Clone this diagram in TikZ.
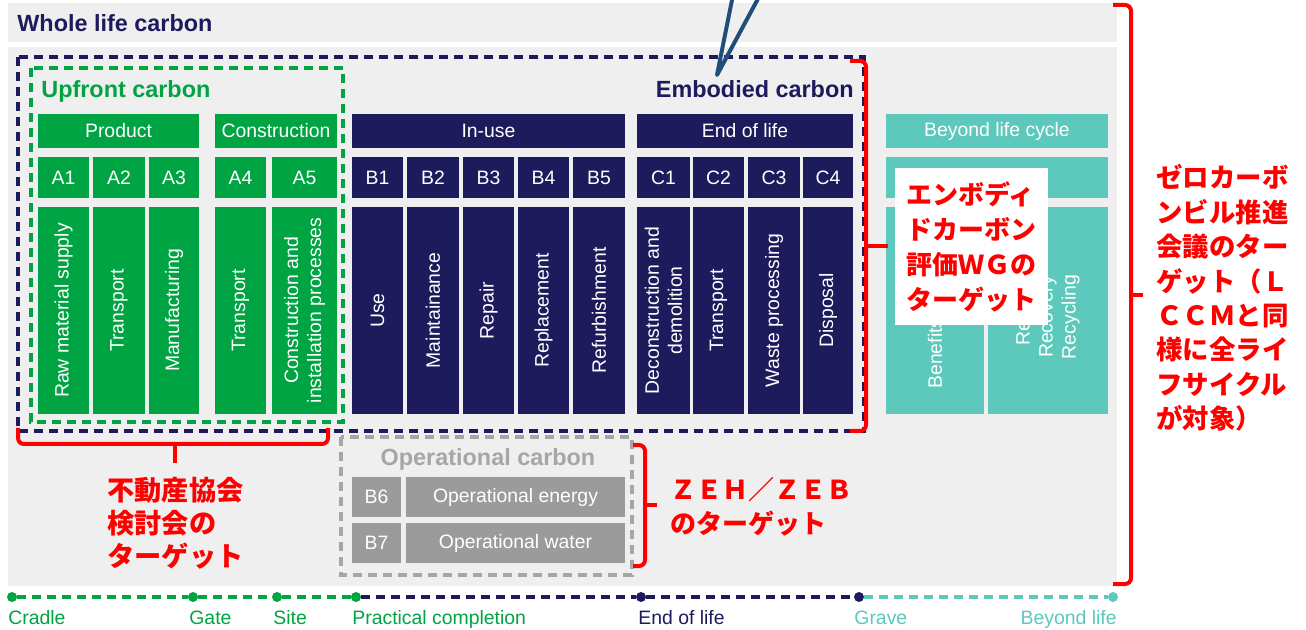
\documentclass[tikz,border=0pt]{standalone}
\usepackage{fontspec}
\usepackage{xcolor}
\usepackage{tikz}
\setmainfont{Liberation Sans}
\newfontfamily\jpfont{Noto Sans CJK JP}

\definecolor{navy}{RGB}{30,27,92}
\definecolor{upgreen}{RGB}{0,164,67}
\definecolor{beyond}{RGB}{93,201,189}
\definecolor{bandgray}{RGB}{239,239,239}
\definecolor{opgray}{RGB}{155,155,155}
\definecolor{opline}{RGB}{166,166,166}
\definecolor{callout}{RGB}{31,78,121}
\definecolor{markred}{RGB}{255,0,0}

\begin{document}
\begin{tikzpicture}[x=0.5pt, y=-0.5pt]
        \def\u{0.5pt}
        \tikzstyle{cell}=[rectangle, inner sep=0pt, text=white, align=center, font=\fontsize{9.7}{11.5}\selectfont]
        \tikzstyle{head}=[cell, minimum height=34*\u]
        \tikzstyle{code}=[cell, minimum height=41*\u]
        \tikzstyle{tall}=[cell, rotate=90, minimum width=207*\u]
        \tikzstyle{title}=[inner sep=0pt, font=\fontsize{11.7}{14}\selectfont\bfseries]
        \tikzstyle{frame}=[dash pattern=on 4.5pt off 3pt, line width=1.6pt]
        \tikzstyle{bracket}=[markred, line width=2pt, rounded corners=3pt]
        \tikzstyle{note}=[inner sep=0pt, text=markred, align=left, font=\jpfont\bfseries\fontsize{13.2}{17.2}\selectfont]
        \tikzstyle{dot}=[circle, inner sep=0pt, minimum size=5pt]
        \tikzstyle{stage}=[inner sep=0pt, font=\fontsize{9.7}{11.5}\selectfont]

        \useasboundingbox (0,0) rectangle (1306,630);
        \fill[white] (0,0) rectangle (1306,630);

        % Bands and frames
        \fill[bandgray] (8,3) rectangle (1117,42);
        \fill[bandgray] (8,47) rectangle (1117,586);
        \draw[frame, navy] (18,57) rectangle (864,431);
        \draw[frame, upgreen] (31,68) rectangle (343,422);
        \draw[frame, opline] (341,437) rectangle (632,575);

        \node[title, navy, anchor=base west] (whole) at (17,32) {Whole life carbon};
        \node[title, upgreen, anchor=base west] (upfront) at (41,98) {Upfront carbon};
        \node[title, navy, anchor=base east] (embodied) at (854,98) {Embodied carbon};
        \node[title, opline, anchor=base] (operational) at (488,466) {Operational carbon};

        % Stages
        \node[head, fill=upgreen, minimum width=161*\u] (product) at (118.5,131) {Product};
        \node[head, fill=upgreen, minimum width=122*\u] (construction) at (276,131) {Construction};
        \node[head, fill=navy, minimum width=273*\u] (inuse) at (488.5,131) {In-use};
        \node[head, fill=navy, minimum width=216*\u] (endoflife) at (745,131) {End of life};
        \node[head, fill=beyond, minimum width=222*\u] (beyondcycle) at (997,131) {Beyond life cycle};

        % Modules
        \node[code, fill=upgreen, minimum width=51*\u] (a1) at (63.5,177.5) {A1};
        \node[code, fill=upgreen, minimum width=52*\u] (a2) at (119,177.5) {A2};
        \node[code, fill=upgreen, minimum width=50*\u] (a3) at (174,177.5) {A3};
        \node[code, fill=upgreen, minimum width=51*\u] (a4) at (240.5,177.5) {A4};
        \node[code, fill=upgreen, minimum width=65*\u] (a5) at (304.5,177.5) {A5};
        \node[code, fill=navy, minimum width=51*\u] (b1) at (377.5,177.5) {B1};
        \node[code, fill=navy, minimum width=52*\u] (b2) at (433,177.5) {B2};
        \node[code, fill=navy, minimum width=51*\u] (b3) at (488.5,177.5) {B3};
        \node[code, fill=navy, minimum width=51*\u] (b4) at (543.5,177.5) {B4};
        \node[code, fill=navy, minimum width=52*\u] (b5) at (599,177.5) {B5};
        \node[code, fill=navy, minimum width=53*\u] (c1) at (663.5,177.5) {C1};
        \node[code, fill=navy, minimum width=51*\u] (c2) at (718.5,177.5) {C2};
        \node[code, fill=navy, minimum width=52*\u] (c3) at (774,177.5) {C3};
        \node[code, fill=navy, minimum width=50*\u] (c4) at (828,177.5) {C4};
        \node[code, fill=beyond, minimum width=222*\u] (d) at (997,177.5) {};

        % Processes
        \node[tall, fill=upgreen, minimum height=51*\u] (a1p) at (63.5,310.5) {Raw material supply};
        \node[tall, fill=upgreen, minimum height=52*\u] (a2p) at (119,310.5) {Transport};
        \node[tall, fill=upgreen, minimum height=50*\u] (a3p) at (174,310.5) {Manufacturing};
        \node[tall, fill=upgreen, minimum height=51*\u] (a4p) at (240.5,310.5) {Transport};
        \node[tall, fill=upgreen, minimum height=65*\u] (a5p) at (304.5,310.5) {Construction and\\installation processes};
        \node[tall, fill=navy, minimum height=51*\u] (b1p) at (377.5,310.5) {Use};
        \node[tall, fill=navy, minimum height=52*\u] (b2p) at (433,310.5) {Maintainance};
        \node[tall, fill=navy, minimum height=51*\u] (b3p) at (488.5,310.5) {Repair};
        \node[tall, fill=navy, minimum height=51*\u] (b4p) at (543.5,310.5) {Replacement};
        \node[tall, fill=navy, minimum height=52*\u] (b5p) at (599,310.5) {Refurbishment};
        \node[tall, fill=navy, minimum height=53*\u] (c1p) at (663.5,310.5) {Deconstruction and\\demolition};
        \node[tall, fill=navy, minimum height=51*\u] (c2p) at (718.5,310.5) {Transport};
        \node[tall, fill=navy, minimum height=52*\u] (c3p) at (774,310.5) {Waste processing};
        \node[tall, fill=navy, minimum height=50*\u] (c4p) at (828,310.5) {Disposal};
        \node[tall, fill=beyond, minimum height=98*\u] (d1p) at (935,310.5) {};
        \node[tall, fill=beyond, minimum height=120*\u] (d2p) at (1048,310.5) {};
        \node[stage, text=white, rotate=90, anchor=west] (benefits) at (935,389) {Benefits};
        \node[stage, text=white, rotate=90, align=center] (reuse) at (1048,317) {Reuse\\Recovery\\Recycling};

        % Operational
        \node[code, fill=opgray, minimum width=49*\u, minimum height=40*\u] (b6) at (376.5,497) {B6};
        \node[code, fill=opgray, minimum width=219*\u, minimum height=40*\u] (energy) at (515.5,497) {Operational energy};
        \node[code, fill=opgray, minimum width=49*\u, minimum height=40*\u] (b7) at (376.5,543) {B7};
        \node[code, fill=opgray, minimum width=219*\u, minimum height=40*\u] (water) at (515.5,543) {Operational water};

        % Notes
        \node[note, fill=white, minimum width=153*\u, minimum height=157*\u, font=\jpfont\bfseries\fontsize{13}{17.5}\selectfont] (wgnote) at (971.5,246.5) {エンボディ\\ドカーボン\\評価ＷＧの\\ターゲット};
        \node[note, anchor=west, font=\jpfont\bfseries\fontsize{13.6}{16.5}\selectfont] (fudosan) at (107,523) {不動産協会\\検討会の\\ターゲット};
        \node[note, anchor=west, font=\jpfont\bfseries\fontsize{13}{17}\selectfont] (zeh) at (670,507) {ＺＥＨ／ＺＥＢ\\のターゲット};
        \node[note, anchor=west] (zerocarbon) at (1156,298) {ゼロカーボ\\ンビル推進\\会議のター\\ゲット（Ｌ\\ＣＣＭと同\\様に全ライ\\フサイクル\\が対象）};

        % Brackets
        \draw[bracket] (18,428) -- (18,444) -- (328,444) -- (328,428);
        \draw[bracket] (175,444) -- (175,463);
        \draw[bracket] (850,61) -- (866,61) -- (866,431) -- (850,431);
        \draw[bracket] (866,246) -- (888,246);
        \draw[bracket] (633,445) -- (645,445) -- (645,566) -- (633,566);
        \draw[bracket] (645,505) -- (657,505);
        \draw[bracket] (1113,5) -- (1131,5) -- (1131,584) -- (1113,584);
        \draw[bracket] (1131,295) -- (1143,295);

        % Pointer
        \coordinate (tip) at (717,75);
        \coordinate (tipa) at (733,-5);
        \coordinate (tipb) at (760,-5);
        \draw[callout, line width=2pt, line cap=round, line join=round] (tipa) -- (tip) -- (tipb);

        % Timeline
        \node[dot, fill=upgreen] (cradle) at (12,597) {};
        \node[dot, fill=upgreen] (gate) at (193,597) {};
        \node[dot, fill=upgreen] (site) at (277,597) {};
        \node[dot, fill=upgreen] (practical) at (356,597) {};
        \node[dot, fill=navy] (eol) at (641,597) {};
        \node[dot, fill=navy] (grave) at (859,597) {};
        \node[dot, fill=beyond] (beyondlife) at (1113,597) {};

        \draw[frame, upgreen] (cradle) -- (gate);
        \draw[frame, upgreen] (gate) -- (site);
        \draw[frame, upgreen] (site) -- (practical);
        \draw[frame, navy] (practical) -- (eol);
        \draw[frame, navy] (eol) -- (grave);
        \draw[frame, beyond] (grave) -- (beyondlife);

        \node[stage, text=upgreen, anchor=base west] (cradletext) at (8,624) {Cradle};
        \node[stage, text=upgreen, anchor=base west] (gatetext) at (189,624) {Gate};
        \node[stage, text=upgreen, anchor=base west] (sitetext) at (273,624) {Site};
        \node[stage, text=upgreen, anchor=base west] (practicaltext) at (352,624) {Practical completion};
        \node[stage, text=navy, anchor=base west] (eoltext) at (638,624) {End of life};
        \node[stage, text=beyond, anchor=base west] (gravetext) at (854,624) {Grave};
        \node[stage, text=beyond, anchor=base east] (beyondtext) at (1117,624) {Beyond life};

    \end{tikzpicture}
\end{document}
